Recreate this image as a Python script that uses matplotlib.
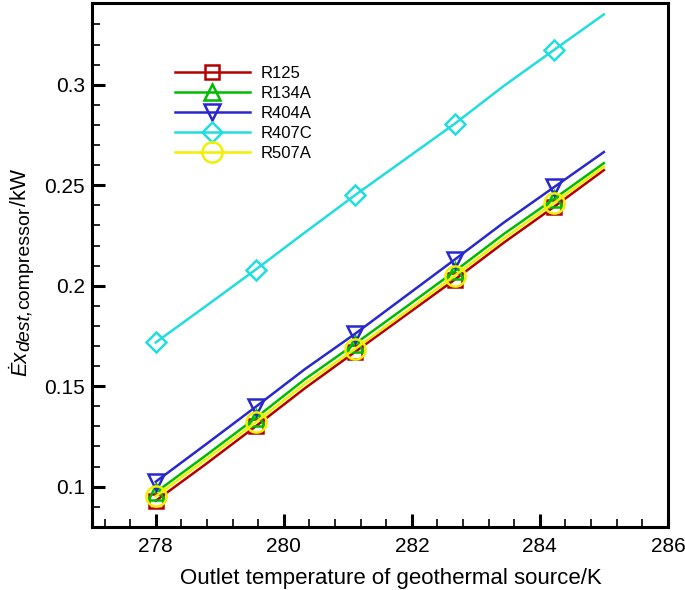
import numpy as np
import matplotlib
matplotlib.use('Agg')
import matplotlib.pyplot as plt
from matplotlib.ticker import MultipleLocator
from matplotlib.transforms import IdentityTransform

# outlet temperature (K); markers on every second point
temp = [278.0, 278.78, 279.56, 280.33, 281.11, 281.89, 282.67, 283.44, 284.22, 285.0]

r125 = [0.093, 0.1112, 0.1300, 0.1490, 0.1670, 0.1850, 0.2030, 0.2215, 0.2392, 0.2575]
r134a = [0.0972, 0.1155, 0.1342, 0.1535, 0.1710, 0.1890, 0.2072, 0.2258, 0.2432, 0.2610]
r404a = [0.1025, 0.1210, 0.1397, 0.1585, 0.1760, 0.1945, 0.2130, 0.2315, 0.2490, 0.2665]
r407c = [0.1718, 0.1898, 0.2080, 0.2265, 0.2450, 0.2628, 0.2806, 0.2995, 0.3173, 0.3350]
r507a = [0.0952, 0.1135, 0.1320, 0.1512, 0.1685, 0.1865, 0.2050, 0.2235, 0.2412, 0.2592]

series = [
    ('R125', r125, '#b40000', 's', 9.5),
    ('R134A', r134a, '#00bb00', '^', 11.5),
    ('R404A', r404a, '#2828cc', 'v', 11.5),
    ('R407C', r407c, '#22dddd', 'D', 10),
    ('R507A', r507a, '#f0f000', 'o', 14.5),
]

plt.rcParams['font.family'] = ['Liberation Sans', 'DejaVu Sans']

fig = plt.figure(figsize=(6.85, 5.9), dpi=100)
ax = fig.add_axes([0.134, 0.107, 0.841, 0.888])

for name, vals, col, mk, ms in series:
    ax.plot(temp, vals, color=col, lw=1.8, marker=mk, markevery=2, ms=ms,
            mfc='none', mec=col, mew=1.8, label=name)

ax.set_xlim(277, 286)
ax.set_ylim(0.08, 0.3407)
ax.set_xticks([278, 280, 282, 284, 286])
ax.set_yticks([0.1, 0.15, 0.2, 0.25, 0.3])
ax.set_yticklabels(['0.1', '0.15', '0.2', '0.25', '0.3'])
ax.xaxis.set_minor_locator(MultipleLocator(0.4))
ax.yaxis.set_minor_locator(MultipleLocator(0.01))
ax.tick_params(which='both', direction='in', top=False, right=False, labelsize=15)
ax.tick_params(axis='y', pad=5)
ax.tick_params(axis='x', pad=7)
ax.tick_params(which='major', length=9.5, width=2.2)
ax.tick_params(which='minor', length=6, width=1.2)
for s in ax.spines.values():
    s.set_linewidth(2.2)

ax.set_xlabel('Outlet temperature of geothermal source/K', fontsize=16)
ax.xaxis.set_label_coords(0.52, -0.078)

# y label built from pieces so the subscript can stay large
renderer = fig.canvas.get_renderer()
ypos = 590 - 376
pieces = [('\u0116x', 'italic', 15.5, 26),
          ('dest,', 'italic', 14, 29),
          ('compressor', 'normal', 14, 29),
          ('/kW', 'normal', 15.5, 26)]
for s, style, size, xb in pieces:
    t = fig.text(xb, ypos, s, rotation=90, rotation_mode='anchor', ha='left',
                 va='baseline', fontsize=size, fontstyle=style,
                 transform=IdentityTransform())
    ypos += t.get_window_extent(renderer).height

leg = ax.legend(loc='upper left', bbox_to_anchor=(0.118, 0.908), frameon=False,
                fontsize=12, handlelength=4.5, labelspacing=0.3, handletextpad=0.65)

plt.savefig('out.png', dpi=100)
plt.close()
